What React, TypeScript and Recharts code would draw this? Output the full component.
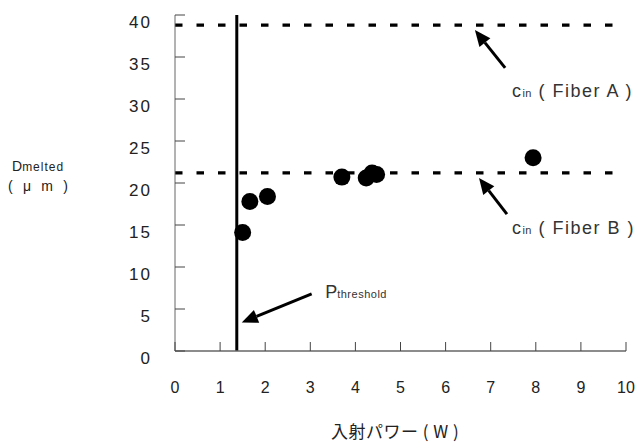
import { ScatterChart, Scatter, XAxis, YAxis, ReferenceLine, ReferenceDot } from 'recharts'

const xTicks = [0, 1, 2, 3, 4, 5, 6, 7, 8, 9, 10]
const yTicks = [0, 5, 10, 15, 20, 25, 30, 35, 40]

// measured points: incident power (W) vs melted diameter (um)
const powerW = [1.5, 1.66, 2.05, 3.7, 4.24, 4.37, 4.47, 7.94]
const meltedUm = [14.1, 17.8, 18.4, 20.7, 20.6, 21.2, 21.0, 23.0]

const cinFiberA = 38.8
const cinFiberB = 21.2
const pThreshold = 1.37

const cinLabels = ['Fiber A', 'Fiber B']
const cinArrowFrom = [{ x: 7.32, y: 33.7 }, { x: 7.36, y: 16.3 }]
const cinArrowTo = [{ x: 6.65, y: 38.2 }, { x: 6.74, y: 20.6 }]
const cinTextAt = [{ x: 7.47, y: 30.2 }, { x: 7.47, y: 13.9 }]

const pArrowFrom = { x: 3.03, y: 6.8 }
const pArrowTo = { x: 1.48, y: 3.4 }
const pTextAt = { x: 3.33, y: 6.3 }

const points = powerW.map((x, i) => ({ x, y: meltedUm[i] }))

const FONT = '"Liberation Sans", Arial, sans-serif'
const AXIS = '#666'
const INK = '#222'

function YTick(props: any) {
  const { x, y, payload } = props
  return (
    <g>
      <line x1={x} y1={y} x2={x + 10} y2={y} stroke="#444" strokeWidth={1} />
      <text x={x - 23} y={y + 13} textAnchor="end" fontSize={17} fill={INK} fontFamily={FONT} letterSpacing={2}>
        {payload.value}
      </text>
    </g>
  )
}

function XTick(props: any) {
  const { x, y, payload } = props
  return (
    <g>
      <line x1={x} y1={y} x2={x} y2={y - 9} stroke="#444" strokeWidth={1} />
      <text x={x} y={y + 42} textAnchor="middle" fontSize={16} fill={INK} fontFamily={FONT}>
        {payload.value}
      </text>
    </g>
  )
}

function Arrow(props: any) {
  const { x1, y1, x2, y2 } = props
  const a = Math.atan2(y2 - y1, x2 - x1)
  const len = 16
  const half = 7
  const bx = x2 - len * Math.cos(a)
  const by = y2 - len * Math.sin(a)
  const px = -Math.sin(a) * half
  const py = Math.cos(a) * half
  return (
    <g>
      <line x1={x1} y1={y1} x2={bx} y2={by} stroke="#000" strokeWidth={3} />
      <polygon points={`${x2},${y2} ${bx + px},${by + py} ${bx - px},${by - py}`} fill="#000" />
    </g>
  )
}

function XTitle(props: any) {
  const { viewBox } = props
  return (
    <text x={viewBox.x + 156} y={viewBox.y + 87} fontSize={17} fill={INK} fontFamily={'"Noto Sans CJK JP", sans-serif'} letterSpacing={0.5}>
      入射パワー ( W )
    </text>
  )
}

function YTitle(props: any) {
  const { viewBox } = props
  return (
    <g fill={INK} fontFamily={FONT}>
      <text x={viewBox.x + 12} y={viewBox.y + 156} fontSize={14}>
        D<tspan fontSize={12} letterSpacing={1}>melted</tspan>
      </text>
      <text x={viewBox.x + 8} y={viewBox.y + 176} fontSize={14} letterSpacing={3.2}>
        ( μ m )
      </text>
    </g>
  )
}

export default function App() {
  return (
    <div style={{ position: 'absolute', left: 0, top: 0, background: '#fff' }}>
      <ScatterChart width={635} height={443} margin={{ top: 15, right: 9, bottom: 0, left: 0 }}>
        <XAxis
          type="number"
          dataKey="x"
          domain={[0, 10]}
          ticks={xTicks}
          height={92}
          tickSize={0}
          tickMargin={0}
          tickLine={false}
          axisLine={{ stroke: AXIS, strokeWidth: 1.5 }}
          tick={<XTick />}
          label={(p: any) => <XTitle {...p} />}
        />
        <YAxis
          type="number"
          dataKey="y"
          domain={[0, 40]}
          ticks={yTicks}
          width={175}
          tickSize={0}
          tickMargin={0}
          tickLine={false}
          axisLine={{ stroke: AXIS, strokeWidth: 1 }}
          tick={<YTick />}
          label={(p: any) => <YTitle {...p} />}
        />
        <ReferenceLine y={cinFiberA} stroke="#000" strokeWidth={3.2} strokeDasharray="7.5 14" />
        <ReferenceLine y={cinFiberB} stroke="#000" strokeWidth={3.2} strokeDasharray="7.5 14" />
        <ReferenceLine x={pThreshold} stroke="#000" strokeWidth={3} />
        <Scatter
          data={points}
          isAnimationActive={false}
          shape={(p: any) => <circle cx={p.cx} cy={p.cy} r={8.5} fill="#000" />}
        />
        {cinLabels.map((name, i) => (
          <ReferenceLine
            key={'a' + name}
            segment={[cinArrowFrom[i], cinArrowTo[i]]}
            shape={(p: any) => <Arrow {...p} />}
          />
        ))}
        {cinLabels.map((name, i) => (
          <ReferenceDot
            key={'t' + name}
            x={cinTextAt[i].x}
            y={cinTextAt[i].y}
            r={0}
            shape={(p: any) => (
              <text x={p.cx} y={p.cy} fontSize={18} fill="#333" fontFamily={FONT} letterSpacing={1.5}>
                c<tspan fontSize={11} letterSpacing={0.5}>in</tspan> ( {name} )
              </text>
            )}
          />
        ))}
        <ReferenceLine segment={[pArrowFrom, pArrowTo]} shape={(p: any) => <Arrow {...p} />} />
        <ReferenceDot
          x={pTextAt.x}
          y={pTextAt.y}
          r={0}
          shape={(p: any) => (
            <text x={p.cx} y={p.cy} fontSize={18} fill="#333" fontFamily={FONT}>
              P<tspan fontSize={11} letterSpacing={0.5}>threshold</tspan>
            </text>
          )}
        />
      </ScatterChart>
    </div>
  )
}
